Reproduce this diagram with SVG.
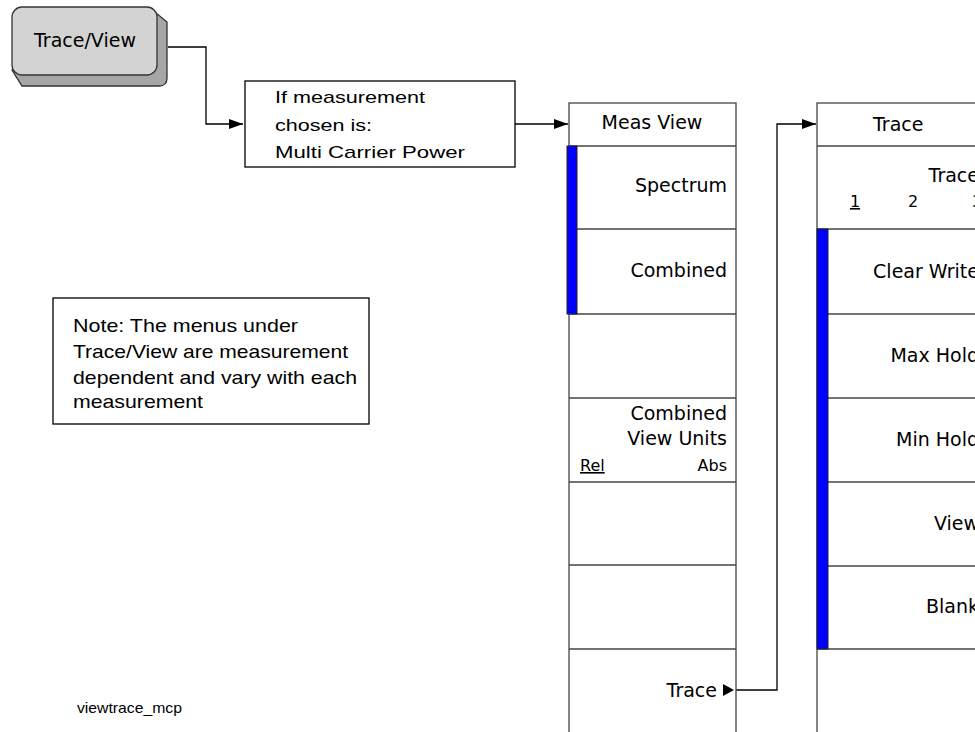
<svg xmlns="http://www.w3.org/2000/svg" width="975" height="732" viewBox="0 0 975 732">
<defs>
<marker id="arr" viewBox="0 0 14 10" refX="14" refY="5" markerWidth="14" markerHeight="11" markerUnits="userSpaceOnUse" orient="auto">
<path d="M0,0 L14,5 L0,10 Z" fill="#000"/>
</marker>
<style>
.menu{font-family:"DejaVu Sans",sans-serif;font-size:19px;fill:#000}
.small{font-family:"DejaVu Sans",sans-serif;font-size:16px;fill:#000}
.arial{font-family:"Liberation Sans",Arial,sans-serif;fill:#000}
.col{fill:#fff;stroke:#444;stroke-width:1.3}
.div{stroke:#444;stroke-width:1.3}
.blue{fill:#0000ff;stroke:#222;stroke-width:1}
.conn{fill:none;stroke:#000;stroke-width:1.3}
</style>
</defs>
<rect width="975" height="732" fill="#fff"/>

<g id="connectors">
<path class="conn" d="M168,47 H206 V124 H243" marker-end="url(#arr)"/>
<path class="conn" d="M515,124 H568" marker-end="url(#arr)"/>
<path class="conn" d="M736,690 H777 V124 H816" marker-end="url(#arr)"/>
</g>

<g id="trace-view-key">
<path d="M150,8 L167,22 L167,78 Q167,86 159,86 L22,86 L12,70 Z" fill="#a6a6a6" stroke="#333" stroke-width="1.3"/>
<rect x="12" y="7" width="145" height="68" rx="10" ry="10" fill="#d3d3d3" stroke="#333" stroke-width="1.3"/>
<text class="menu" x="85" y="47" text-anchor="middle">Trace/View</text>
</g>

<g id="condition-box">
<rect x="245" y="81" width="270" height="86" fill="#fff" stroke="#000" stroke-width="1.3"/>
<text class="arial" font-size="17" x="275" y="103" textLength="150" lengthAdjust="spacingAndGlyphs">If measurement</text>
<text class="arial" font-size="17" x="275" y="131" textLength="97" lengthAdjust="spacingAndGlyphs">chosen is:</text>
<text class="arial" font-size="17" x="275" y="158" textLength="190" lengthAdjust="spacingAndGlyphs">Multi Carrier Power</text>
</g>

<g id="meas-view-menu">
<rect class="col" x="569" y="103" width="167" height="640"/>
<line class="div" x1="569" y1="146" x2="736" y2="146"/>
<line class="div" x1="569" y1="229" x2="736" y2="229"/>
<line class="div" x1="569" y1="314" x2="736" y2="314"/>
<line class="div" x1="569" y1="398" x2="736" y2="398"/>
<line class="div" x1="569" y1="482" x2="736" y2="482"/>
<line class="div" x1="569" y1="565" x2="736" y2="565"/>
<line class="div" x1="569" y1="649" x2="736" y2="649"/>
<rect class="blue" x="567" y="146" width="10" height="168"/>
<text class="menu" x="652" y="129" text-anchor="middle">Meas View</text>
<text class="menu" x="727" y="192" text-anchor="end">Spectrum</text>
<text class="menu" x="727" y="277" text-anchor="end">Combined</text>
<text class="menu" x="727" y="420" text-anchor="end">Combined</text>
<text class="menu" x="727" y="445" text-anchor="end">View Units</text>
<text class="small" x="580" y="471" text-decoration="underline">Rel</text>
<text class="small" x="727" y="471" text-anchor="end">Abs</text>
<text class="menu" x="717" y="697" text-anchor="end">Trace</text>
<polygon points="723,684 734,690 723,696" fill="#000"/>
</g>

<g id="trace-menu">
<rect class="col" x="817" y="103" width="167" height="640"/>
<line class="div" x1="817" y1="146" x2="984" y2="146"/>
<line class="div" x1="817" y1="229" x2="984" y2="229"/>
<line class="div" x1="817" y1="314" x2="984" y2="314"/>
<line class="div" x1="817" y1="398" x2="984" y2="398"/>
<line class="div" x1="817" y1="482" x2="984" y2="482"/>
<line class="div" x1="817" y1="566" x2="984" y2="566"/>
<line class="div" x1="817" y1="649" x2="984" y2="649"/>
<rect class="blue" x="817" y="229" width="11" height="420"/>
<text class="menu" x="873" y="131">Trace</text>
<text class="menu" x="979" y="182" text-anchor="end">Trace</text>
<text class="small" x="855" y="207" text-anchor="middle" text-decoration="underline">1</text>
<text class="small" x="913" y="207" text-anchor="middle">2</text>
<text class="small" x="977" y="207" text-anchor="middle">3</text>
<text class="menu" x="979" y="278" text-anchor="end">Clear Write</text>
<text class="menu" x="979" y="362" text-anchor="end">Max Hold</text>
<text class="menu" x="979" y="446" text-anchor="end">Min Hold</text>
<text class="menu" x="979" y="530" text-anchor="end">View</text>
<text class="menu" x="979" y="613" text-anchor="end">Blank</text>
</g>

<g id="note">
<rect x="53" y="298" width="316" height="126" fill="#fff" stroke="#000" stroke-width="1.3"/>
<text class="arial" font-size="19" x="73" y="332" textLength="225" lengthAdjust="spacingAndGlyphs">Note: The menus under</text>
<text class="arial" font-size="19" x="73" y="358" textLength="275" lengthAdjust="spacingAndGlyphs">Trace/View are measurement</text>
<text class="arial" font-size="19" x="73" y="384" textLength="284" lengthAdjust="spacingAndGlyphs">dependent and vary with each</text>
<text class="arial" font-size="19" x="73" y="408" textLength="130" lengthAdjust="spacingAndGlyphs">measurement</text>
</g>

<g id="caption">
<text class="arial" font-size="15" x="77" y="713" textLength="105" lengthAdjust="spacingAndGlyphs">viewtrace_mcp</text>
</g>
</svg>
